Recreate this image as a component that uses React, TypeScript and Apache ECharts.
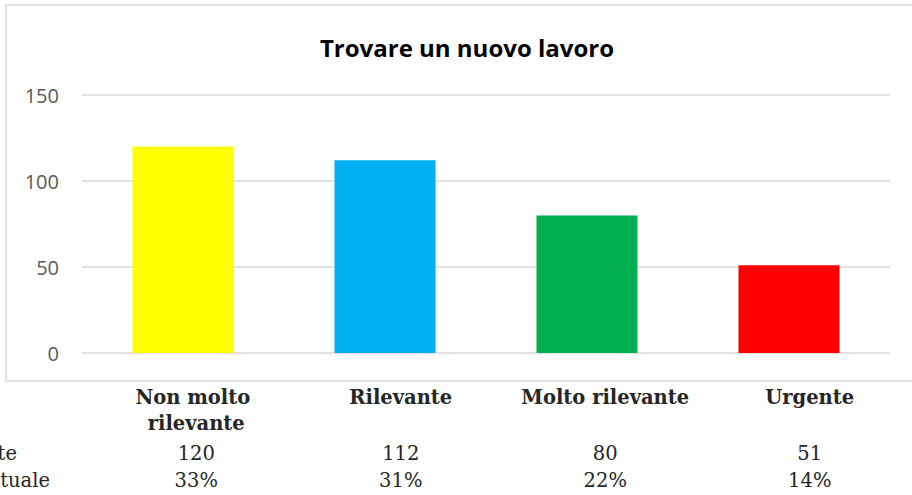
import React, { useEffect, useRef } from "react";
import * as echarts from "echarts";

const chartTitle = "Trovare un nuovo lavoro";
const categories = ["Non molto rilevante", "Rilevante", "Molto rilevante", "Urgente"];
const counts = [120, 112, 80, 51];
const percents = ["33%", "31%", "22%", "14%"];
const barColors = ["#FFFF00", "#00B0F0", "#00B050", "#FF0000"];
const rowLabels = ["Frequente", "Percentuale"];
const yTicks = { min: 0, max: 150, interval: 50 };

export default function App() {
  const ref = useRef<HTMLDivElement>(null);
  useEffect(() => {
    document.body.style.margin = "0";
    const chart = echarts.init(ref.current!, null, { renderer: "svg" });
    const serif = "DejaVu Serif";
    const textColor = "#262626";
    const hiddenAxis = { axisLine: { show: false }, axisTick: { show: false } };
    chart.setOption({
      animation: false,
      title: {
        text: chartTitle,
        left: 462,
        top: 30,
        textAlign: "center",
        textStyle: { fontFamily: "Open Sans", fontWeight: "bold", fontSize: 24, color: "#000" },
      },
      grid: [
        { left: 82, right: 22, top: 95, bottom: 142, containLabel: false },
        { left: 94, right: 0, top: 95, bottom: 142, containLabel: false },
      ],
      xAxis: [
        {
          type: "category",
          gridIndex: 0,
          data: categories,
          ...hiddenAxis,
          axisLabel: { show: false },
        },
        {
          type: "category",
          gridIndex: 1,
          data: categories,
          ...hiddenAxis,
          axisLabel: {
            interval: 0,
            margin: 31,
            width: 195,
            overflow: "break",
            fontFamily: serif,
            fontWeight: "bold",
            fontSize: 19.5,
            lineHeight: 26,
            color: textColor,
          },
        },
        {
          type: "category",
          gridIndex: 1,
          position: "bottom",
          offset: 90,
          data: counts.map(String),
          ...hiddenAxis,
          axisLabel: { interval: 0, margin: 0, fontFamily: serif, fontSize: 19.5, lineHeight: 20, color: textColor },
        },
        {
          type: "category",
          gridIndex: 1,
          position: "bottom",
          offset: 117,
          data: percents,
          ...hiddenAxis,
          axisLabel: { interval: 0, margin: 0, fontFamily: serif, fontSize: 19.5, lineHeight: 20, color: textColor },
        },
      ],
      yAxis: [
        {
          type: "value",
          gridIndex: 0,
          min: yTicks.min,
          max: yTicks.max,
          interval: yTicks.interval,
          ...hiddenAxis,
          axisLabel: { margin: 23, fontFamily: "Open Sans", fontSize: 20, color: "#595959" },
          splitLine: { lineStyle: { color: "#d9d9d9", width: 1.5 } },
        },
        {
          type: "value",
          gridIndex: 1,
          show: false,
          min: yTicks.min,
          max: yTicks.max,
        },
      ],
      series: [
        {
          type: "bar",
          xAxisIndex: 0,
          yAxisIndex: 0,
          barWidth: "50%",
          data: counts.map((v, i) => ({ value: v, itemStyle: { color: barColors[i] } })),
        },
      ],
      graphic: [
        {
          type: "rect",
          z: -10,
          shape: { x: 6, y: 5, width: 930, height: 376 },
          style: { fill: "none", stroke: "#d9d9d9", lineWidth: 1.5 },
        },
        {
          type: "text",
          x: 17,
          y: 453,
          style: { text: rowLabels[0], textAlign: "right", textVerticalAlign: "middle", font: `19.5px "${serif}"`, fill: textColor },
        },
        {
          type: "text",
          x: 50,
          y: 480,
          style: { text: rowLabels[1], textAlign: "right", textVerticalAlign: "middle", font: `19.5px "${serif}"`, fill: textColor },
        },
      ],
    });
    return () => chart.dispose();
  }, []);
  return <div ref={ref} style={{ width: 912, height: 495 }} />;
}
